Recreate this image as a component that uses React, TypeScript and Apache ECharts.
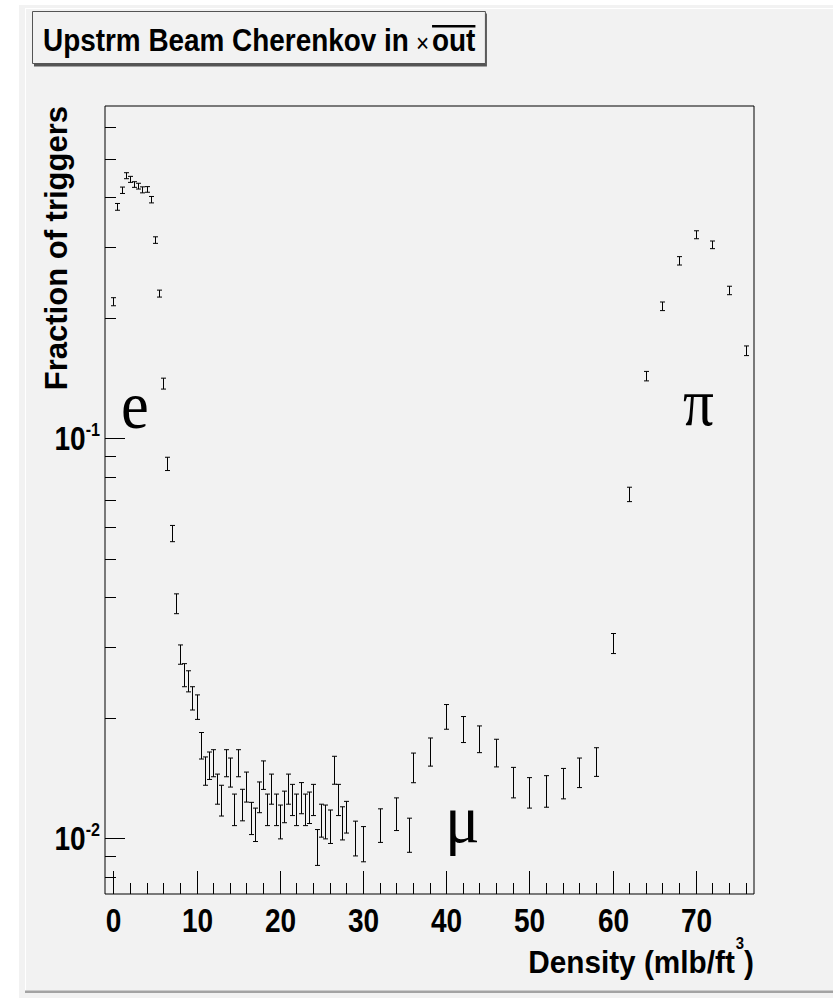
import React, { useEffect, useRef } from 'react';
import * as echarts from 'echarts';

// ---------- data ----------
const xValues = [
  0, 0.5, 1, 1.5, 2, 2.5, 3, 3.5, 4, 4.5, 5, 5.5, 6, 6.5, 7, 7.5,
  8, 8.5, 9, 9.5, 10, 10.5, 11, 11.5, 12, 12.5, 13, 13.5, 14, 14.5, 15, 15.5,
  16, 16.5, 17, 17.5, 18, 18.5, 19, 19.5, 20, 20.5, 21, 21.5, 22, 22.5, 23, 23.5,
  24, 24.5, 25, 25.5, 26, 26.5, 27, 27.5, 28,
  29, 30, 32, 34, 35.5, 36, 38, 40, 42, 44, 46, 48, 50, 52, 54, 56, 58,
  60, 62, 64, 66, 68, 70, 72, 74, 76,
];
const yValues = [
  0.2195, 0.379, 0.417, 0.4535, 0.444, 0.431, 0.427, 0.418, 0.419, 0.395, 0.313, 0.230, 0.137, 0.0863, 0.0578, 0.0386,
  0.0288, 0.0256, 0.0247, 0.0224, 0.0213, 0.01706, 0.01475, 0.01521, 0.01543, 0.0133, 0.01245, 0.01543, 0.01463, 0.01181, 0.01543, 0.01214,
  0.01346, 0.01124, 0.01084, 0.01269, 0.01441, 0.01181, 0.0133, 0.01181, 0.01102, 0.01201, 0.0133, 0.0125, 0.01181, 0.01263, 0.01181, 0.01195,
  0.0125, 0.00952, 0.0111, 0.01102, 0.01072, 0.01482, 0.0125, 0.01093, 0.01132,
  0.01002, 0.0097, 0.01079, 0.01152, 0.01021, 0.01503, 0.01646, 0.02014, 0.01873, 0.01771, 0.01636, 0.01381, 0.01302, 0.01313, 0.01373, 0.01461, 0.01554,
  0.0307, 0.0724, 0.143, 0.2138, 0.2778, 0.3228, 0.3046, 0.2342, 0.1655,
];
const yErrors = [
  0.0051, 0.0074, 0.0077, 0.0078, 0.0077, 0.0070, 0.0071, 0.0072, 0.0068, 0.0073, 0.0059, 0.0046, 0.0043, 0.0033, 0.0027, 0.0022,
  0.0016, 0.0017, 0.0015, 0.0015, 0.0015, 0.0013, 0.0012, 0.0012, 0.0012, 0.00115, 0.0011, 0.0012, 0.00122, 0.00107, 0.0012, 0.0011,
  0.00116, 0.00104, 0.00104, 0.00112, 0.00118, 0.00107, 0.00115, 0.00107, 0.00107, 0.00109, 0.00115, 0.00112, 0.00107, 0.00113, 0.00107, 0.00108,
  0.00112, 0.00098, 0.00105, 0.00107, 0.00103, 0.00119, 0.00112, 0.00104, 0.00103,
  0.001, 0.00098, 0.00104, 0.00108, 0.001, 0.00128, 0.00133, 0.00143, 0.0014, 0.00136, 0.0013, 0.00121, 0.00114, 0.00119, 0.0012, 0.00124, 0.00128,
  0.00177, 0.003, 0.0039, 0.0053, 0.0067, 0.0074, 0.0067, 0.0057, 0.0046,
];

const X_MIN = -1;
const X_MAX = 77;
const Y_MIN = 0.007244;
const Y_MAX = 0.6774;

const xMajorTicks = [0, 10, 20, 30, 40, 50, 60, 70];
const xTickLabels = ['0', '10', '20', '30', '40', '50', '60', '70'];
const xMinorTicks = [2, 4, 6, 8, 12, 14, 16, 18, 22, 24, 26, 28, 32, 34, 36, 38, 42, 44, 46, 48, 52, 54, 56, 58, 62, 64, 66, 68, 72, 74, 76];
const yMajorTicks = [0.01, 0.1];
const yTickExponents = ['-2', '-1'];
const yMinorTicks = [0.008, 0.009, 0.02, 0.03, 0.04, 0.05, 0.06, 0.07, 0.08, 0.09, 0.2, 0.3, 0.4, 0.5, 0.6];

const titleMain = 'Upstrm Beam Cherenkov in';
const titleTimes = '\u00d7';
const titleBar = 'out';
const yTitle = 'Fraction of triggers';
const xTitleMain = 'Density (mlb/ft';
const xTitleSup = '3';
const xTitleEnd = ')';
const particleLabels = ['e', '\u03c0', '\u03bc'];

// ---------- styling ----------
const SANS = '"Liberation Sans", Arial, Helvetica, sans-serif';
const SERIF = '"Liberation Serif", "Times New Roman", serif';
const BG = '#f2f2f2';

const GRID = { left: 105, top: 106, width: 649, height: 788 };

const TICK_FS = 33;
const TICK_SX = 0.85;

function measure(text: string, font: string): number {
  const c = document.createElement('canvas').getContext('2d');
  if (!c) return text.length * 10;
  c.font = font;
  return c.measureText(text).width;
}

export default function App() {
  const ref = useRef<HTMLDivElement>(null);

  useEffect(() => {
    if (!ref.current) return;
    const chart = echarts.init(ref.current, undefined, { renderer: 'svg' });

    const errData = xValues.map((x, i) => [x, yValues[i] - yErrors[i], yValues[i] + yErrors[i]]);

    const tickData: number[][] = [];
    xMajorTicks.forEach((v, i) => tickData.push([v, Y_MIN, 0, i]));
    xMinorTicks.forEach((v, i) => tickData.push([v, Y_MIN, 1, i]));
    yMajorTicks.forEach((v, i) => tickData.push([X_MIN, v, 2, i]));
    yMinorTicks.forEach((v, i) => tickData.push([X_MIN, v, 3, i]));

    const tickFont = `bold ${TICK_FS}px ${SANS}`;
    const expFS = 19;
    const expFont = `bold ${expFS}px ${SANS}`;

    // title geometry
    const TITLE_FS = 31;
    const TITLE_SX = 0.9;
    const titleFont = `bold ${TITLE_FS}px ${SANS}`;
    const tx0 = 43;
    const tY = 40;
    const wMain = measure(titleMain, titleFont) * TITLE_SX;
    const timesFont = `${Math.round(TITLE_FS * 0.8)}px ${SANS}`;
    const wTimes = measure(titleTimes, timesFont) * TITLE_SX;
    const wBar = measure(titleBar, titleFont) * TITLE_SX;
    const xTimes = tx0 + wMain + 7;
    const xBar = xTimes + wTimes + 3;
    const boxRight = xBar + wBar + 10;

    // x title geometry (right aligned to frame right)
    const XT_FS = 32;
    const XT_SX = 0.93;
    const xtFont = `bold ${XT_FS}px ${SANS}`;
    const supFont = `bold 16px ${SANS}`;
    const frameRight = GRID.left + GRID.width;
    const wEnd = measure(xTitleEnd, xtFont) * XT_SX;
    const wSup = measure(xTitleSup, supFont) * XT_SX;
    const xtY = 962;

    const option: any = {
      animation: false,
      backgroundColor: '#ffffff',
      grid: {
        ...GRID,
        show: true,
        borderColor: '#000',
        borderWidth: 1,
        backgroundColor: 'transparent',
        containLabel: false,
      },
      xAxis: {
        type: 'value',
        min: X_MIN,
        max: X_MAX,
        axisLine: { show: false },
        axisTick: { show: false },
        axisLabel: { show: false },
        splitLine: { show: false },
      },
      yAxis: {
        type: 'log',
        logBase: 10,
        min: Y_MIN,
        max: Y_MAX,
        axisLine: { show: false },
        axisTick: { show: false },
        axisLabel: { show: false },
        splitLine: { show: false },
      },
      graphic: [
        { type: 'rect', z: -100, shape: { x: 19, y: 5, width: 820, height: 993 }, style: { fill: BG } },
        { type: 'line', z: -99, shape: { x1: 25.5, y1: 8, x2: 25.5, y2: 991 }, style: { stroke: '#ffffff', lineWidth: 1 } },
        { type: 'line', z: -99, shape: { x1: 25, y1: 8.5, x2: 840, y2: 8.5 }, style: { stroke: '#ffffff', lineWidth: 1 } },
        { type: 'rect', z: -99, shape: { x: 25, y: 990.5, width: 820, height: 2.5 }, style: { fill: '#a3a3a3' } },
        // title box
        { type: 'rect', z: 10, shape: { x: 34, y: 13.5, width: boxRight - 32.5, height: 53 }, style: { fill: '#555555' } },
        { type: 'rect', z: 11, shape: { x: 32.5, y: 11.5, width: boxRight - 32.5, height: 52 }, style: { fill: BG, stroke: '#555555', lineWidth: 1 } },
        {
          type: 'text', z: 12, x: tx0, y: tY, scaleX: TITLE_SX,
          style: { text: titleMain, font: titleFont, fill: '#000', align: 'left', verticalAlign: 'middle' },
        },
        {
          type: 'text', z: 12, x: xTimes, y: tY + 3, scaleX: TITLE_SX,
          style: { text: titleTimes, font: timesFont, fill: '#000', align: 'left', verticalAlign: 'middle' },
        },
        {
          type: 'text', z: 12, x: xBar, y: tY, scaleX: TITLE_SX,
          style: { text: titleBar, font: titleFont, fill: '#000', align: 'left', verticalAlign: 'middle' },
        },
        { type: 'rect', z: 12, shape: { x: xBar, y: tY - 15, width: wBar, height: 2.5 }, style: { fill: '#000' } },
        // y title
        {
          type: 'text', z: 12, x: 56, y: GRID.top, rotation: Math.PI / 2,
          style: { text: yTitle, font: `bold 31px ${SANS}`, fill: '#000', align: 'right', verticalAlign: 'middle' },
        },
        // x title
        {
          type: 'text', z: 12, x: frameRight, y: xtY, scaleX: XT_SX,
          style: { text: xTitleEnd, font: xtFont, fill: '#000', align: 'right', verticalAlign: 'middle' },
        },
        {
          type: 'text', z: 12, x: frameRight - wEnd, y: xtY - 19, scaleX: XT_SX,
          style: { text: xTitleSup, font: supFont, fill: '#000', align: 'right', verticalAlign: 'middle' },
        },
        {
          type: 'text', z: 12, x: frameRight - wEnd - wSup - 1, y: xtY, scaleX: XT_SX,
          style: { text: xTitleMain, font: xtFont, fill: '#000', align: 'right', verticalAlign: 'middle' },
        },
        // particle labels
        {
          type: 'text', z: 12, x: 121, y: 405, scaleX: 0.92,
          style: { text: particleLabels[0], font: `68px ${SERIF}`, fill: '#000', align: 'left', verticalAlign: 'middle' },
        },
        {
          type: 'text', z: 12, x: 683, y: 402, scaleX: 0.9,
          style: { text: particleLabels[1], font: `68px ${SERIF}`, fill: '#000', align: 'left', verticalAlign: 'middle' },
        },
        {
          type: 'text', z: 12, x: 445, y: 819, scaleX: 0.95,
          style: { text: particleLabels[2], font: `68px ${SERIF}`, fill: '#000', align: 'left', verticalAlign: 'middle' },
        },
      ],
      series: [
        {
          type: 'custom',
          name: 'ticks',
          coordinateSystem: 'cartesian2d',
          clip: false,
          silent: true,
          z: 5,
          data: tickData,
          encode: { x: 0, y: 1 },
          renderItem: (params: any, api: any) => {
            const p = api.coord([api.value(0), api.value(1)]);
            const kind = api.value(2);
            const idx = api.value(3);
            const stroke = { stroke: '#000', lineWidth: 1 };
            if (kind === 0 || kind === 1) {
              const x = Math.round(p[0]) + 0.5;
              const len = kind === 0 ? 23 : 11;
              const children: any[] = [
                { type: 'line', shape: { x1: x, y1: p[1], x2: x, y2: p[1] - len }, style: stroke },
              ];
              if (kind === 0) {
                children.push({
                  type: 'text', x, y: p[1] + 26, scaleX: TICK_SX,
                  style: { text: xTickLabels[idx], font: tickFont, fill: '#000', align: 'center', verticalAlign: 'middle' },
                });
              }
              return { type: 'group', children };
            }
            const y = Math.round(p[1]) + 0.5;
            const len = kind === 2 ? 20 : 11;
            const children: any[] = [
              { type: 'line', shape: { x1: p[0], y1: y, x2: p[0] + len, y2: y }, style: stroke },
            ];
            if (kind === 2) {
              const right = p[0] - 5;
              const wExp = measure(yTickExponents[idx], expFont) * TICK_SX;
              children.push({
                type: 'text', x: right, y: y - 9, scaleX: TICK_SX,
                style: { text: yTickExponents[idx], font: expFont, fill: '#000', align: 'right', verticalAlign: 'middle' },
              });
              children.push({
                type: 'text', x: right - wExp, y: y, scaleX: TICK_SX,
                style: { text: '10', font: tickFont, fill: '#000', align: 'right', verticalAlign: 'middle' },
              });
            }
            return { type: 'group', children };
          },
        },
        {
          type: 'custom',
          name: 'Fraction of triggers',
          coordinateSystem: 'cartesian2d',
          silent: true,
          z: 6,
          data: errData,
          encode: { x: 0, y: [1, 2] },
          renderItem: (params: any, api: any) => {
            const x = api.value(0);
            const top = api.coord([x, api.value(2)]);
            const bot = api.coord([x, api.value(1)]);
            const cx = Math.round(top[0]) + 0.5;
            const w = 2.5;
            const st = { stroke: '#000', lineWidth: 1 };
            return {
              type: 'group',
              children: [
                { type: 'line', shape: { x1: cx, y1: top[1], x2: cx, y2: bot[1] }, style: st },
                { type: 'line', shape: { x1: cx - w, y1: top[1], x2: cx + w, y2: top[1] }, style: st },
                { type: 'line', shape: { x1: cx - w, y1: bot[1], x2: cx + w, y2: bot[1] }, style: st },
              ],
            };
          },
        },
      ],
    };

    chart.setOption(option);
    return () => chart.dispose();
  }, []);

  return (
    <div
      ref={ref}
      style={{ position: 'absolute', left: 0, top: 0, width: 833, height: 998 }}
    />
  );
}
